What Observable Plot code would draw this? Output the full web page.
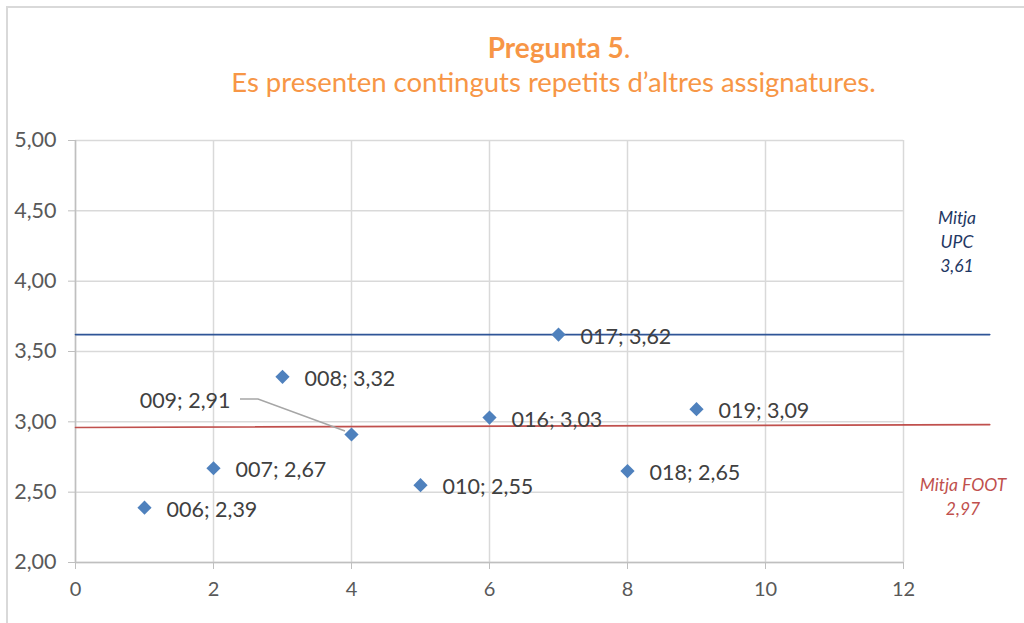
<!DOCTYPE html>
<html><head><meta charset="utf-8">
<script src="https://cdn.jsdelivr.net/npm/d3@7"></script>
<script src="https://cdn.jsdelivr.net/npm/@observablehq/plot@0.6"></script>
<style>
html,body{margin:0;padding:0;background:#fff;}
#wrap{position:relative;width:1024px;height:623px;overflow:hidden;font-family:Lato,"Open Sans",sans-serif;}
#border{position:absolute;left:6px;top:6px;width:1100px;height:700px;border-left:2px solid #d9d9d9;border-top:2px solid #d9d9d9;}
#t1{position:absolute;left:0;width:1118px;top:30px;line-height:34px;text-align:center;color:#F79646;font-size:28px;}
#t2{position:absolute;left:0;width:1107px;top:65px;line-height:34px;text-align:center;color:#F79646;font-size:27.5px;}
.note{position:absolute;text-align:center;font-style:italic;font-size:17.5px;line-height:24px;}
#chart{position:absolute;left:0;top:0;}
</style></head>
<body>
<div id="wrap">
<div id="border"></div>
<div id="chart"></div>
<div id="t1"><b>Pregunta 5</b>.</div>
<div id="t2">Es presenten continguts repetits d’altres assignatures.</div>
<div class="note" id="nUPC" style="left:910px;top:206px;width:94px;color:#1F3864;">Mitja<br>UPC<br>3,61</div>
<div class="note" id="nFOOT" style="left:900px;top:473px;width:126px;color:#C0504D;">Mitja FOOT<br>2,97</div>
</div>
<script>
const codes = ["006","007","008","009","010","016","017","018","019"];
const xs = [1,2,3,4,5,6,7,8,9];
const scores = [2.39,2.67,3.32,2.91,2.55,3.03,3.62,2.65,3.09];
const upcLine = [[0,3.62],[13.25,3.62]];
const footLine = [[0,2.96],[13.25,2.98]];
const xTicks = [0,2,4,6,8,10,12];
const yTicks = [2,2.5,3,3.5,4,4.5,5];

const fmt = v => v.toFixed(2).replace(".", ",");
const pts = codes.map((c,i)=>({code:c,x:xs[i],y:scores[i],label:`${c}; ${fmt(scores[i])}`}));
const normal = pts.filter(d=>d.code!=="009");
const special = pts.filter(d=>d.code==="009");

const leader = (index, scales) => {
  const g = d3.create("svg:g");
  for (const d of special) {
    const px = scales.x(d.x), py = scales.y(d.y);
    g.append("polyline")
      .attr("points", [[px-111,py-35],[px-93,py-35],[px-6,py-3]].map(p=>p.join(",")).join(" "))
      .attr("fill","none").attr("stroke","#a6a6a6").attr("stroke-width",1.5);
  }
  return g.node();
};

const chart = Plot.plot({
  width:1024, height:623,
  marginTop:140, marginBottom:61, marginLeft:75, marginRight:121,
  style:{fontFamily:"Lato, 'Open Sans', sans-serif", background:"transparent"},
  x:{domain:[0,12], ticks:xTicks, label:null},
  y:{domain:[2,5], ticks:yTicks, label:null},
  marks:[
    Plot.gridX(xTicks,{stroke:"#d9d9d9", strokeOpacity:1, strokeWidth:1.5}),
    Plot.gridY(yTicks,{stroke:"#d9d9d9", strokeOpacity:1, strokeWidth:1.5}),
    Plot.axisX({ticks:xTicks, tickSize:7, tickPadding:12, fontSize:20, color:"#595959", stroke:"#bfbfbf", tickFormat:d=>String(d)}),
    Plot.axisY({ticks:yTicks, tickSize:7, tickPadding:12, fontSize:21.5, color:"#595959", stroke:"#bfbfbf", tickFormat:fmt}),
    Plot.ruleY([2],{stroke:"#bfbfbf", strokeWidth:1.5}),
    Plot.ruleX([0],{stroke:"#bfbfbf", strokeWidth:1.5}),
    Plot.line(upcLine,{x:d=>d[0], y:d=>d[1], stroke:"#2F5597", strokeWidth:1.6}),
    Plot.line(footLine,{x:d=>d[0], y:d=>d[1], stroke:"#C0504D", strokeWidth:1.6}),
    leader,
    Plot.dot(pts,{x:"x", y:"y", symbol:"diamond2", r:6.4, fill:"#4F81BD", stroke:"none"}),
    Plot.text(normal,{x:"x", y:"y", text:"label", dx:22, dy:2, textAnchor:"start", fontSize:21.5, fill:"#404040"}),
    Plot.text(special,{x:"x", y:"y", text:"label", dx:-121, dy:-33, textAnchor:"end", fontSize:21.5, fill:"#404040"})
  ]
});
document.getElementById("chart").append(chart);
</script>
</body></html>
